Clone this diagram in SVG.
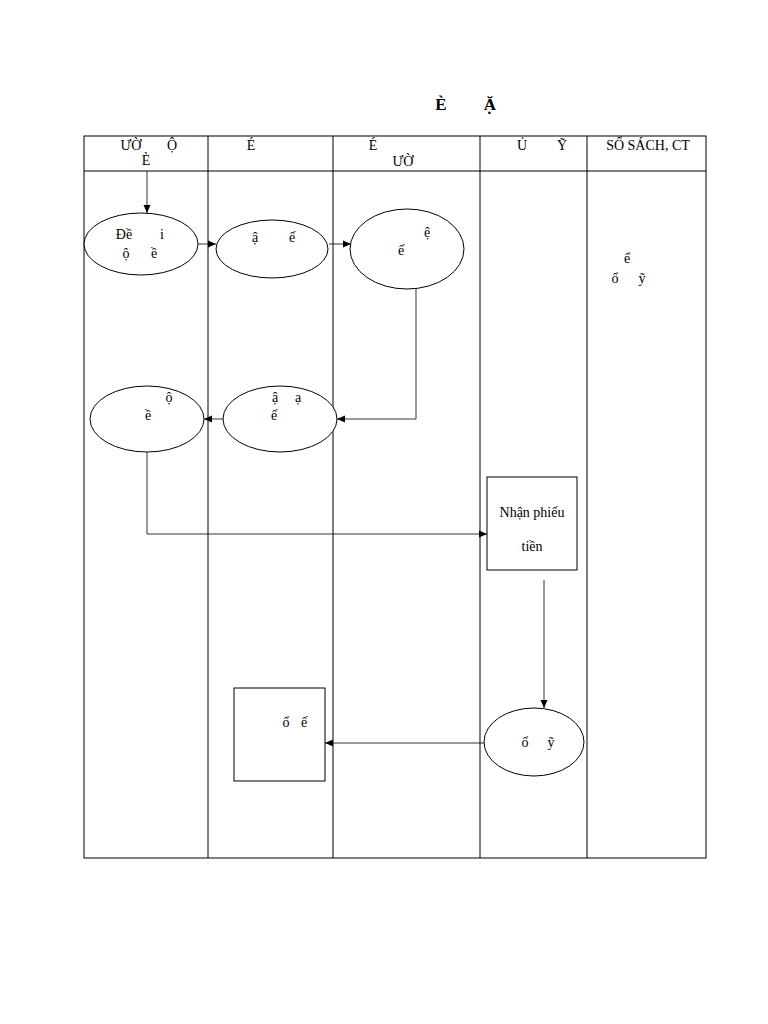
<svg xmlns="http://www.w3.org/2000/svg" width="768" height="1024" viewBox="0 0 768 1024">
<defs>
<style>
text{font-family:"Liberation Serif","Times New Roman",serif;font-size:14px;fill:#000;text-anchor:middle}
.t{font-size:17px;font-weight:bold}
.n{fill:#fff;stroke:#000;stroke-width:1}
.ln{fill:none;stroke:#000;stroke-width:1}
.c{fill:none;stroke:#000;stroke-width:0.8;marker-end:url(#ah)}
</style>
<marker id="ah" markerWidth="8" markerHeight="8" refX="8" refY="4" orient="auto" markerUnits="userSpaceOnUse">
<path d="M0,0.5 L8,4 L0,7.5 Z" fill="#000"/>
</marker>
</defs>
<rect width="768" height="1024" fill="#fff"/>
<g id="title">
<text class="t" x="441" y="110">È</text>
<text class="t" x="490" y="110">Ặ</text>
</g>
<g id="table">
<rect class="ln" x="84" y="136" width="622" height="722"/>
<line class="ln" x1="84" y1="171" x2="706" y2="171"/>
<line class="ln" x1="208" y1="136" x2="208" y2="858"/>
<line class="ln" x1="333" y1="136" x2="333" y2="858"/>
<line class="ln" x1="480" y1="136" x2="480" y2="858"/>
<line class="ln" x1="587" y1="136" x2="587" y2="858"/>
<text x="131" y="150">ƯỜ</text>
<text x="172" y="150">Ộ</text>
<text x="146" y="165">È</text>
<text x="251" y="150">É</text>
<text x="373" y="150">É</text>
<text x="403" y="166">ƯỜ</text>
<text x="522" y="150">Ủ</text>
<text x="562" y="150">Ỹ</text>
<text x="648" y="150">SỔ SÁCH, CT</text>
<text x="627" y="263">ể</text>
<text x="615" y="283">ổ</text>
<text x="642" y="283">ỹ</text>
</g>
<g id="connectors">
<line class="c" x1="147" y1="171" x2="147" y2="213"/>
<line class="c" x1="198" y1="244" x2="216" y2="244"/>
<line class="c" x1="329" y1="244" x2="351" y2="244"/>
<polyline class="c" points="416,289 416,419 337,419"/>
<line class="c" x1="223" y1="419" x2="204" y2="419"/>
<polyline class="c" points="147,452 147,534 487,534"/>
<line class="c" x1="544" y1="580" x2="544" y2="708"/>
<line class="c" x1="484" y1="743" x2="325" y2="743"/>
</g>
<g id="n1">
<ellipse class="n" cx="141" cy="244" rx="57" ry="31"/>
<text x="124" y="239">Đề</text>
<text x="162" y="239">i</text>
<text x="126" y="258">ộ</text>
<text x="154" y="258">ề</text>
</g>
<g id="n2">
<ellipse class="n" cx="272" cy="249" rx="56" ry="29"/>
<text x="255" y="242">ậ</text>
<text x="292" y="242">ế</text>
</g>
<g id="n3">
<ellipse class="n" cx="407" cy="249" rx="57" ry="40"/>
<text x="427" y="237">ệ</text>
<text x="401" y="255">ế</text>
</g>
<g id="n4">
<ellipse class="n" cx="147" cy="419" rx="57" ry="33"/>
<text x="169" y="402">ộ</text>
<text x="148" y="420">ề</text>
</g>
<g id="n5">
<ellipse class="n" cx="280" cy="419" rx="57" ry="33"/>
<text x="275" y="402">ậ</text>
<text x="298" y="402">ạ</text>
<text x="274" y="420">ế</text>
</g>
<g id="n6">
<rect class="n" x="487" y="477" width="90" height="93"/>
<text x="532" y="517">Nhận phiếu</text>
<text x="532" y="551">tiền</text>
</g>
<g id="n7">
<ellipse class="n" cx="534" cy="742" rx="50" ry="34"/>
<text x="525" y="747">ổ</text>
<text x="551" y="747">ỹ</text>
</g>
<g id="n8">
<rect class="n" x="234" y="688" width="91" height="93"/>
<text x="286" y="727">ổ</text>
<text x="304" y="727">ế</text>
</g>
</svg>
